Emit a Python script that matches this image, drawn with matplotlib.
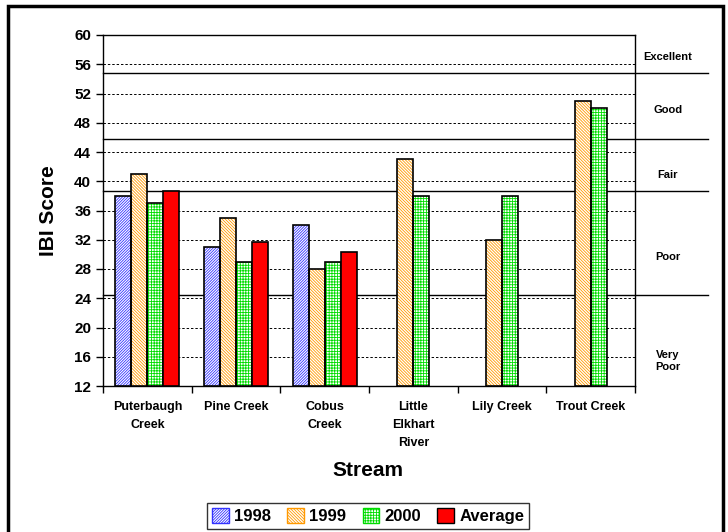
import numpy as np
import matplotlib
matplotlib.use("Agg")
import matplotlib.pyplot as plt
from matplotlib.patches import Rectangle, Patch
from matplotlib.lines import Line2D

plt.rcParams['font.family'] = ['Liberation Sans', 'DejaVu Sans']
plt.rcParams['hatch.linewidth'] = 0.6

# data
streams = ['Puterbaugh\nCreek', 'Pine Creek', 'Cobus\nCreek', 'Little\nElkhart\nRiver',
           'Lily Creek', 'Trout Creek']
y1998 = [38, 31, 34, np.nan, np.nan, np.nan]
y1999 = [41, 35, 28, 43, 32, 51]
y2000 = [37, 29, 29, 38, 38, 50]
avg = [38.7, 31.7, 30.3, np.nan, np.nan, np.nan]

ratings = ['Excellent', 'Good', 'Fair', 'Poor', 'Very\nPoor']
rating_bounds = [54.8, 45.8, 38.7, 24.5]
rating_label_y = [57.0, 49.7, 40.8, 29.6, 15.4]

fig = plt.figure(figsize=(7.28, 5.32), dpi=100)
ax = fig.add_axes([103 / 728, 1 - 386 / 532, 532 / 728, 351 / 532])

x = np.arange(len(streams))
w = 0.18
series = [
    (y1998, '#3333ff', '/' * 12, '1998'),
    (y1999, '#ff9900', '\\' * 11, '1999'),
    (y2000, '#00dd00', '+' * 6, '2000'),
    (avg, 'red', None, 'Average'),
]
handles = []
for i, (vals, col, hatch, lab) in enumerate(series):
    pos = x + (i - 1.5) * w
    vals = np.array(vals, dtype=float)
    if hatch:
        ax.bar(pos, vals - 12, w, bottom=12, color='white', edgecolor=col, hatch=hatch,
               linewidth=0, zorder=3)
        ax.bar(pos, vals - 12, w, bottom=12, fill=False, edgecolor='black', linewidth=1.2, zorder=4)
        handles.append(Patch(facecolor='white', edgecolor=col, hatch=hatch, label=lab))
    else:
        ax.bar(pos, vals - 12, w, bottom=12, color=col, edgecolor='black', linewidth=1.2, zorder=4)
        handles.append(Patch(facecolor=col, edgecolor='black', label=lab))

ax.set_xlim(-0.5, len(streams) - 0.5)
ax.set_ylim(12, 60)
ax.set_yticks(np.arange(12, 61, 4))
ax.set_xticks(np.arange(-0.5, len(streams), 1))
ax.set_xticklabels([])
ax.set_xticks(x, minor=True)
ax.set_xticklabels(streams, minor=True, fontsize=9, fontweight='bold', linespacing=1.65)
ax.tick_params(axis='x', which='minor', length=0, pad=11)
ax.tick_params(axis='x', which='major', length=5, width=1)
ax.tick_params(axis='y', length=5, width=1, labelsize=11)
for t in ax.get_yticklabels():
    t.set_fontweight('bold')

ax.yaxis.grid(True, linestyle=(0, (2.5, 2)), color='black', linewidth=0.7, zorder=0)
ax.set_axisbelow(True)
for s in ['left', 'bottom', 'top', 'right']:
    ax.spines[s].set_linewidth(1.0)

# rating bands
for b in rating_bounds:
    ax.add_line(Line2D([0, 1.137], [b, b], transform=ax.get_yaxis_transform(),
                       color='black', linewidth=1.0, clip_on=False, zorder=2))
for lab, yy in zip(ratings, rating_label_y):
    ax.text(1.062, yy, lab, transform=ax.get_yaxis_transform(), ha='center', va='center',
            fontsize=8, fontweight='bold')

ax.set_ylabel('IBI Score', fontsize=15, fontweight='bold', labelpad=12)
fig.text(368 / 728, 1 - 470 / 532, 'Stream', ha='center', va='center',
         fontsize=15, fontweight='bold')

leg = fig.legend(handles=handles, loc='center', bbox_to_anchor=(368 / 728, 1 - 516 / 532),
                 ncol=4, frameon=True, fancybox=False, edgecolor='black', fontsize=12,
                 handlelength=1.0, handleheight=1.0, handletextpad=0.3, columnspacing=1.0,
                 borderpad=0.3)
leg.get_frame().set_linewidth(1.0)
for t in leg.get_texts():
    t.set_fontweight('bold')

fig.patches.append(Rectangle((8 / 728, -0.01), 715 / 728, 1 - 6 / 532 + 0.01,
                             transform=fig.transFigure, fill=False, edgecolor='black',
                             linewidth=2.5))

fig.savefig('out.png', dpi=100)
